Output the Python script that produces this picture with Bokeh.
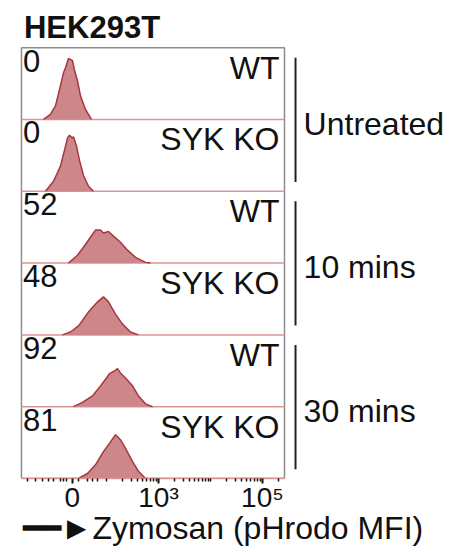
import math
from bokeh.plotting import figure
from bokeh.models import FixedTicker, Range1d
from bokeh.core.properties import value
from bokeh.embed import file_html
from bokeh.resources import INLINE

# ---------------- data ----------------
TITLE = "HEK293T"
SAMPLES = ["WT", "SYK KO", "WT", "SYK KO", "WT", "SYK KO"]
PERCENTS = ["0", "0", "52", "48", "92", "81"]
GROUPS = ["Untreated", "10 mins", "30 mins"]

# histogram x positions (biexponential display units: 10^3 -> 3, 10^5 -> 5)
# and normalised heights (fraction of one row)
H1_X = [0.789, 0.923, 1.019, 1.115, 1.173, 1.212, 1.269, 1.346, 1.385, 1.442, 1.500, 1.596, 1.712]
H1_Y = [0.0, 0.07, 0.19, 0.47, 0.65, 0.72, 0.85, 0.82, 0.69, 0.54, 0.33, 0.14, 0.0]
H2_X = [0.827, 0.981, 1.115, 1.192, 1.250, 1.288, 1.346, 1.365, 1.423, 1.481, 1.558, 1.654, 1.750]
H2_Y = [0.0, 0.14, 0.35, 0.57, 0.74, 0.78, 0.74, 0.76, 0.63, 0.43, 0.22, 0.07, 0.0]
H3_X = [1.269, 1.442, 1.558, 1.692, 1.788, 1.885, 1.942, 2.038, 2.135, 2.269, 2.404, 2.558, 2.750, 2.846]
H3_Y = [0.0, 0.11, 0.22, 0.36, 0.46, 0.46, 0.42, 0.44, 0.375, 0.29, 0.18, 0.08, 0.01, 0.0]
H4_X = [1.154, 1.308, 1.462, 1.596, 1.654, 1.750, 1.846, 1.942, 2.038, 2.173, 2.308, 2.462, 2.615]
H4_Y = [0.0, 0.04, 0.125, 0.26, 0.32, 0.40, 0.47, 0.53, 0.46, 0.29, 0.15, 0.04, 0.0]
H5_X = [1.365, 1.538, 1.731, 1.885, 2.000, 2.058, 2.135, 2.212, 2.269, 2.365, 2.500, 2.615, 2.750, 2.885]
H5_Y = [0.0, 0.06, 0.15, 0.29, 0.40, 0.46, 0.49, 0.53, 0.47, 0.40, 0.29, 0.15, 0.04, 0.0]
H6_X = [1.462, 1.635, 1.788, 1.942, 2.077, 2.173, 2.269, 2.365, 2.500, 2.615, 2.750]
H6_Y = [0.0, 0.07, 0.19, 0.375, 0.51, 0.61, 0.54, 0.42, 0.24, 0.10, 0.0]
HIST_X = [H1_X, H2_X, H3_X, H4_X, H5_X, H6_X]
HIST_Y = [H1_Y, H2_Y, H3_Y, H4_Y, H5_Y, H6_Y]

TICK_POS = [1.34, 3.0, 5.0]
TICK_LABELS = ["0", "10\u00b3", "10\u2075"]
LINEAR_MINOR = [0.481, 0.635, 0.769, 0.885, 0.981, 1.115, 1.173, 1.231, 1.462, 1.635, 1.731, 1.827]
X_LABEL = "\u2501\u2501\u25baZymosan (pHrodo MFI)"

# ---------------- layout constants ----------------
BOX_L, BOX_R = 0.365, 5.423
N = len(SAMPLES)
FONT = "Liberation Sans"
FILL = "#cd8689"
EDGE = "#a8363e"
BASE = "#dc9597"
INK = "#111111"

p = figure(width=461, height=552, x_range=Range1d(-0.038, 8.519), y_range=Range1d(0, 6.657),
           output_backend="svg", toolbar_location=None, y_axis_location=None,
           min_border_left=0, min_border_right=16, min_border_top=0, min_border_bottom=74)
p.outline_line_color = None
p.xgrid.visible = False
p.ygrid.visible = False
p.background_fill_color = "white"
p.border_fill_color = "white"

# panel box
p.quad(left=[BOX_L], right=[BOX_R], bottom=[0], top=[N], fill_color=None,
       line_color="#8c8c8c", line_width=1.5)

for i in range(N):
    base = N - 1 - i
    p.segment(x0=[BOX_L], x1=[BOX_R], y0=[base], y1=[base], line_color=BASE, line_width=1.5)
    ys = [base + h for h in HIST_Y[i]]
    p.varea(x=HIST_X[i], y1=[base] * len(ys), y2=ys, fill_color=FILL)
    p.line(x=HIST_X[i], y=ys, line_color=EDGE, line_width=1.5)
    p.text(x=[0.394], y=[base + 0.972], text=[PERCENTS[i]], text_font=value(FONT),
           text_font_size="31px", text_baseline="top", text_align="left", text_color=INK)
    p.text(x=[5.327], y=[base + 0.972], text=[SAMPLES[i]], text_font=value(FONT),
           text_font_size="32px", text_baseline="top", text_align="right", text_color=INK)

# group brackets
for g, name in enumerate(GROUPS):
    top = N - 2 * g
    bot = top - 2
    p.segment(x0=[5.635], x1=[5.635], y0=[bot + 0.13], y1=[top - 0.14],
              line_color="#222222", line_width=2)
    p.text(x=[5.79], y=[(top + bot) / 2 - 0.06], text=[name], text_font=value(FONT),
           text_font_size="32px", text_baseline="middle", text_align="left", text_color=INK)

# title
p.text(x=[0.413], y=[6.518], text=[TITLE], text_font=value(FONT), text_font_style="bold",
       text_font_size="31px", text_baseline="top", text_align="left", text_color=INK)

# axis
minors = list(LINEAR_MINOR)
for d in (2, 3, 4, 5):
    for k in range(1, 10):
        v = d + math.log10(k)
        if v <= BOX_R and v not in TICK_POS:
            minors.append(v)
ax = p.xaxis[0]
ax.ticker = FixedTicker(ticks=TICK_POS, minor_ticks=minors)
ax.major_label_overrides = {t: l for t, l in zip(TICK_POS, TICK_LABELS)}
ax.bounds = (BOX_L, BOX_R)
ax.axis_line_color = BASE
ax.axis_line_width = 1.5
ax.major_tick_in = 0
ax.major_tick_out = 5
ax.minor_tick_in = 0
ax.minor_tick_out = 3
ax.major_tick_line_color = INK
ax.minor_tick_line_color = INK
ax.major_tick_line_width = 2
ax.minor_tick_line_width = 1.5
ax.major_label_text_font = FONT
ax.major_label_text_font_size = "28px"
ax.major_label_text_color = INK
ax.major_label_standoff = -2
ax.axis_label = X_LABEL
ax.axis_label_text_font = FONT
ax.axis_label_text_font_size = "32px"
ax.axis_label_text_font_style = "normal"
ax.axis_label_text_color = INK
ax.axis_label_standoff = -6

open("out.html", "w").write(file_html(p, INLINE))
